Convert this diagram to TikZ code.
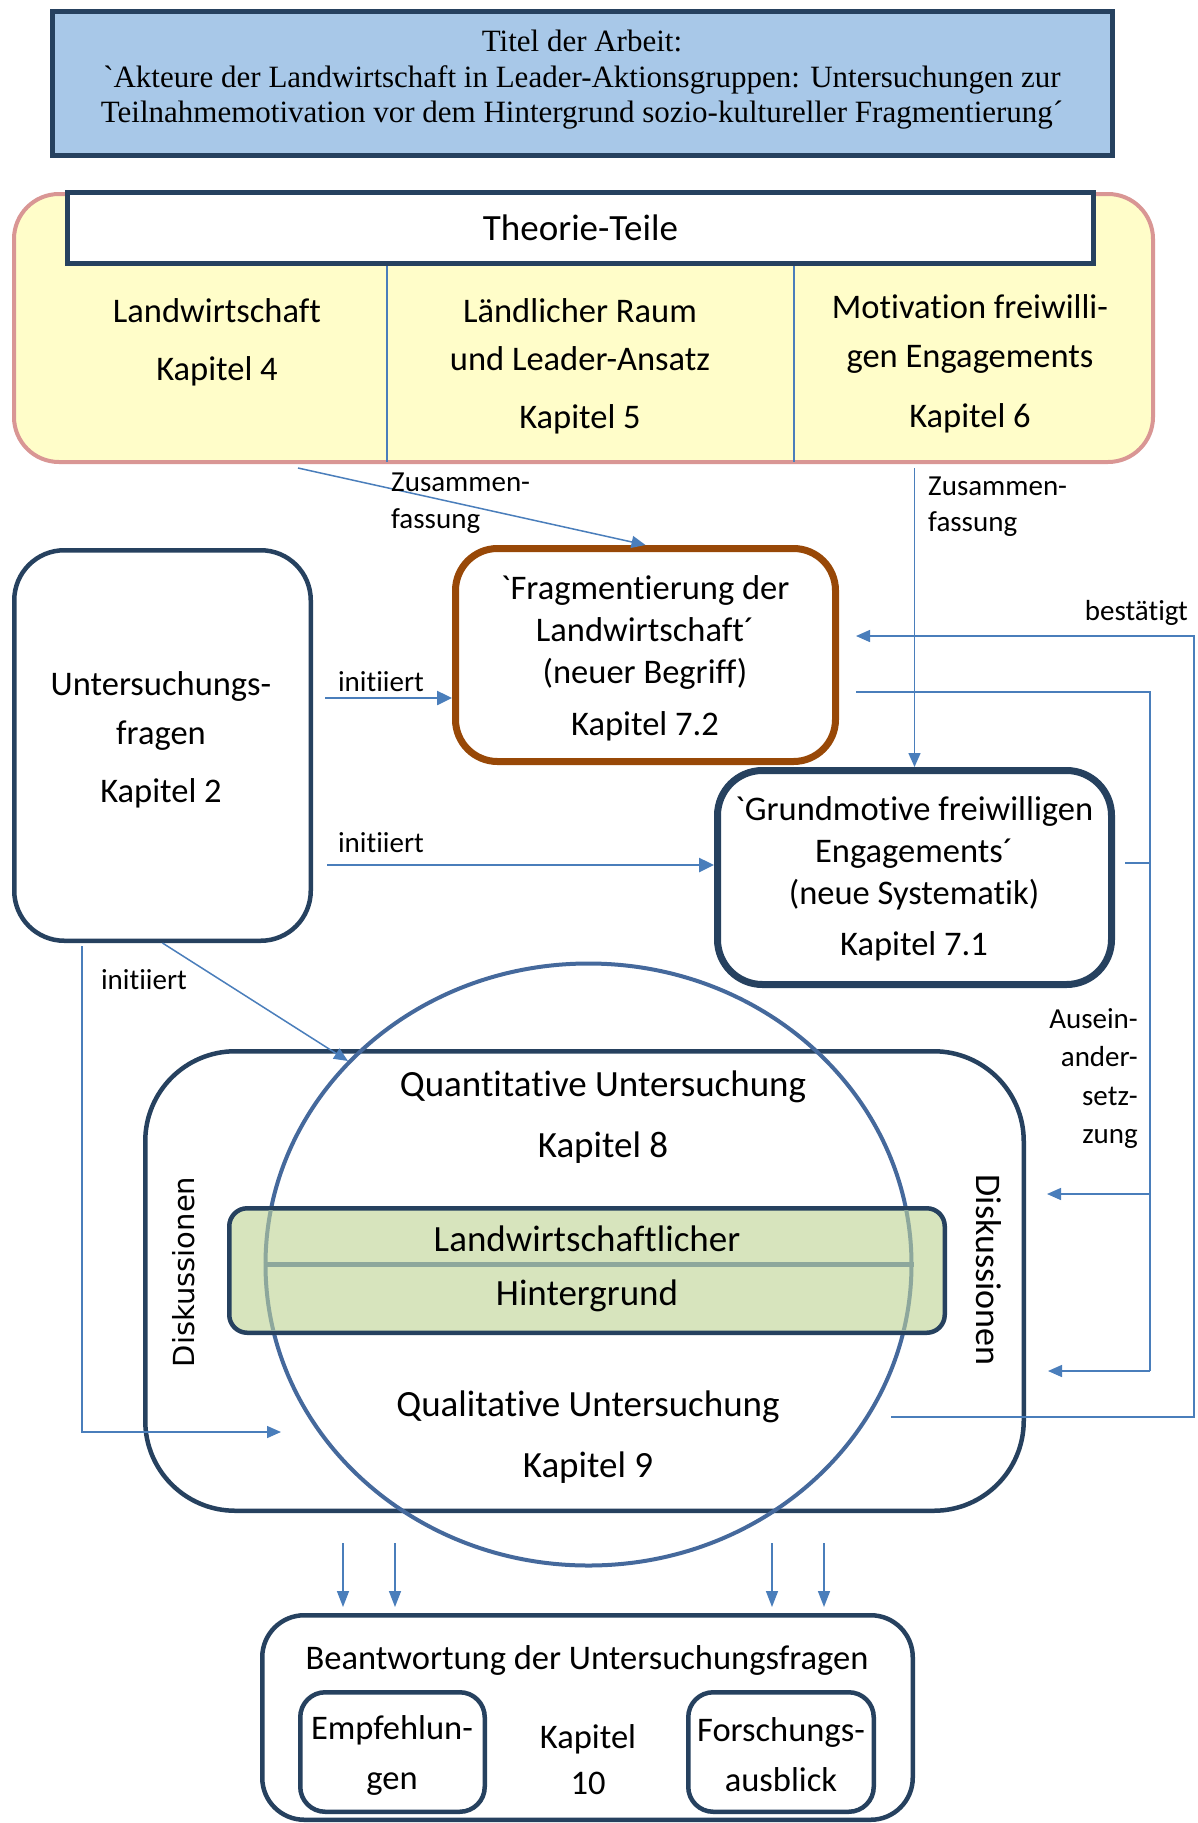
\documentclass[tikz,border=0pt]{standalone}
\usepackage{fontspec}
\usetikzlibrary{arrows.meta,calc,shapes.geometric}
\newfontfamily\calib{Carlito}[Ligatures=CommonOff]
\newfontfamily\titlefnt{Liberation Serif}[Ligatures=CommonOff]
\newfontfamily\dejavu{DejaVu Sans}
\newcommand\fsz[2]{\fontsize{#1}{#2}\selectfont}

\definecolor{navy}{HTML}{26415F}
\definecolor{arrowblue}{HTML}{4A7EBB}
\definecolor{ringblue}{HTML}{45699C}
\definecolor{titlefill}{HTML}{A8C8E8}
\definecolor{theofill}{HTML}{FFFDC9}
\definecolor{theoedge}{HTML}{D99694}
\definecolor{fragedge}{HTML}{984807}
\definecolor{bandfill}{HTML}{D7E4BD}
\definecolor{bandline}{HTML}{8DA79C}

\begin{document}
\begin{tikzpicture}[x=1pt,y=-1pt,
  every node/.style={inner sep=0pt},
  panel/.style={draw=navy, fill=white, line width=4.5pt},
  conn/.style={draw=arrowblue, line width=1.5pt},
  arr/.style={conn, -{Triangle[length=14pt,width=12pt]}},
  thickarr/.style={conn, line width=2.5pt, -{Triangle[length=15pt,width=14pt]}},
  lbl/.style={font=\calib\fsz{29}{37}},
  txt/.style={font=\calib\fsz{34.5}{43}, align=center},
  bigtxt/.style={font=\calib\fsz{37}{46}, align=center},
]
\fill[white] (0,0) rectangle (1198,1823);
\useasboundingbox (0,0) rectangle (1198,1823);

% ---- title of the thesis
\node[draw=navy, line width=5pt, fill=titlefill, minimum width=1060pt, minimum height=144pt] (title) at (582.5,83.5) {};
\node[font=\titlefnt\fsz{31}{35.5}, align=center] (titletext) at (582,80)
  {Titel der Arbeit:\\`Akteure der Landwirtschaft in Leader-Aktionsgruppen: Untersuchungen zur\\Teilnahmemotivation vor dem Hintergrund sozio-kultureller Fragmentierung´};

% ---- theory parts
\node[draw=theoedge, line width=4pt, fill=theofill, rounded corners=45pt, minimum width=1139pt, minimum height=268pt] (theory) at (583.5,328) {};
\node[draw=navy, line width=5pt, fill=white, minimum width=1026pt, minimum height=71pt, font=\calib\fsz{37}{46}] (theoryhead) at (580.5,228) {Theorie-Teile};
\draw[arrowblue, line width=2.5pt] (387,266) -- (387,462);
\draw[arrowblue, line width=2.5pt] (794,266) -- (794,462);
\node[txt, font=\calib\fsz{34.5}{58}] (colfarm) at (217,342) {Landwirtschaft\\Kapitel 4};
\node[txt, font=\calib\fsz{34.5}{48}] (colrural) at (580,366) {Ländlicher Raum\\und Leader-Ansatz\\[10pt]Kapitel 5};
\node[txt, font=\calib\fsz{34.5}{49}] (colmotiv) at (970,363.5) {Motivation freiwilli-\\gen Engagements\\[11pt]Kapitel 6};

% ---- research questions and new concepts
\node[panel, rounded corners=50pt, minimum width=296.5pt, minimum height=390.5pt] (questions) at (162.5,745.5) {};
\node[txt, font=\calib\fsz{34.5}{49}] (questionstext) at (161,739.5) {Untersuchungs-\\fragen\\[9pt]Kapitel 2};

\node[draw=fragedge, fill=white, line width=7pt, rounded corners=42pt, minimum width=380pt, minimum height=213pt] (frag) at (645.5,655) {};
\node[txt, font=\calib\fsz{34.5}{42}] (fragtext) at (645,658) {`Fragmentierung der\\Landwirtschaft´\\(neuer Begriff)\\[10pt]Kapitel 7.2};

\node[panel, line width=7pt, rounded corners=45pt, minimum width=394pt, minimum height=214pt] (motives) at (914.5,877.5) {};
\node[txt, font=\calib\fsz{34.5}{42}] (motivestext) at (914,878.5) {`Grundmotive freiwilligen\\Engagements´\\(neue Systematik)\\[9pt]Kapitel 7.1};

% ---- empirical part with discussions
\node[panel, rounded corners=90pt, minimum width=878.5pt, minimum height=459.5pt] (studies) at (584.5,1281) {};
\node[draw=ringblue, line width=4pt, ellipse, minimum width=646pt, minimum height=602pt] (ring) at (588.5,1264.5) {};
\node[draw=navy, fill=bandfill, line width=4.5pt, rounded corners=18pt, minimum width=715.5pt, minimum height=124.5pt] (band) at (587,1270.5) {};
\begin{scope}
  \clip ($(band.north west)+(4.5,4.5)$) rectangle ($(band.south east)+(-4.5,-4.5)$);
  \draw[bandline, line width=4pt] (ring.center) ellipse [x radius=323pt, y radius=301pt];
\end{scope}
\draw[bandline, line width=5pt] (ring.west) -- (ring.east);

\node[bigtxt, font=\calib\fsz{37}{61}] (quanttext) at (603,1117) {Quantitative Untersuchung\\Kapitel 8};
\node[bigtxt, font=\calib\fsz{37}{54}] (bandtext) at (587,1269) {Landwirtschaftlicher\\Hintergrund};
\node[bigtxt, font=\calib\fsz{37}{61}] (qualtext) at (588,1437.5) {Qualitative Untersuchung\\Kapitel 9};
\node[font=\dejavu\fsz{29}{35}, rotate=90] (discleft) at (184,1272) {Diskussionen};
\node[font=\calib\fsz{36}{40}, rotate=-90] (discright) at (989,1270) {Diskussionen};

% ---- answers
\node[panel, rounded corners=42pt, minimum width=650.5pt, minimum height=204.5pt] (answers) at (587.5,1717.5) {};
\node[font=\calib\fsz{34.5}{40}] (answerstitle) at (587,1660) {Beantwortung der Untersuchungsfragen};
\node[panel, rounded corners=25pt, minimum width=184.5pt, minimum height=119.5pt] (recs) at (392.5,1752) {};
\node[txt, font=\calib\fsz{34.5}{50}] (recstext) at (392,1755) {Empfehlun-\\gen};
\node[txt, font=\calib\fsz{34.5}{46}] (chapten) at (588,1760) {Kapitel\\10};
\node[panel, rounded corners=25pt, minimum width=185.5pt, minimum height=119.5pt] (outlook) at (781,1752) {};
\node[txt, font=\calib\fsz{34.5}{50}] (outlooktext) at (781,1755) {Forschungs-\\ausblick};

% ---- connectors
\coordinate (zlstart) at (298,468);
\draw[arr] (zlstart) -- (frag.north);
\node[lbl, align=left, anchor=west] (zlabelL) at (391,503.5) {Zusammen-\\fassung};
\coordinate (zrstart) at (914.5,468);
\draw[arr] (zrstart) -- (motives.north);
\node[lbl, align=left, anchor=west, font=\calib\fsz{29}{36}] (zlabelR) at (928,507) {Zusammen-\\fassung};

\coordinate (i1) at (325,698);
\draw[thickarr] (i1) -- (i1 -| frag.west);
\node[lbl] (i1label) at (381,682) {initiiert};
\coordinate (i2) at (327,865);
\draw[thickarr] (i2) -- (i2 -| motives.west);
\node[lbl] (i2label) at (381,843) {initiiert};
\coordinate (i3) at (348,1061);
\draw[arr] (questions.south) -- (i3);
\coordinate (i4a) at (82,946);
\coordinate (i4b) at (281,1432);
\draw[arr] (i4a) |- (i4b);
\node[lbl] (i4label) at (144,980) {initiiert};

\coordinate (bq) at (891,1417);
\coordinate (bc) at (1194,636);
\coordinate (bt) at (856,636);
\draw[arr] (bq) -| (bc) -- (bt);
\node[lbl, anchor=east] (blabel) at (1188,613) {bestätigt};

\coordinate (af) at (856,692);
\coordinate (ac) at (1150,692);
\coordinate (am) at (1125,863);
\coordinate (a1) at (1047,1194);
\coordinate (a2) at (1048,1371);
\draw[conn] (af) -- (ac) -- (ac |- a2);
\draw[arr] (ac |- a2) -- (a2);
\draw[arr] (ac |- a1) -- (a1);
\draw[conn] (am) -- (am -| ac);
\node[lbl, align=right, anchor=east, font=\calib\fsz{29}{38.3}] (alabel) at (1138,1078.5) {Ausein-\\ander-\\setz-\\zung};

\foreach \x [count=\i] in {343,395,772,824}{
  \coordinate (down\i) at (\x,1543);
  \draw[conn, -{Triangle[length=16pt,width=12pt]}, shorten >=6pt] (down\i) -- (down\i |- answers.north);
}
\end{tikzpicture}
\end{document}
